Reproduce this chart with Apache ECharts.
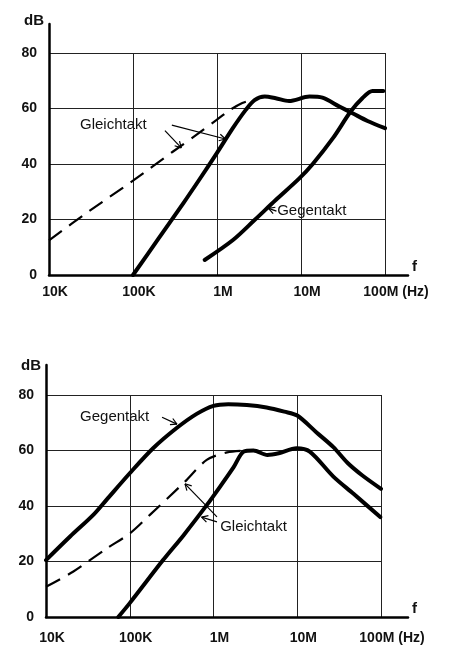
<!DOCTYPE html>
<html>
<head>
<meta charset="utf-8">
<script src="https://cdn.jsdelivr.net/npm/echarts@6/dist/echarts.min.js"></script>
<style>html,body{margin:0;padding:0;background:#fff;}#c{width:451px;height:646px;}</style>
</head>
<body>
<div id="c"></div>
<script>
// ---------- tick labels ----------
const xTickLabels = ['10K', '100K', '1M', '10M', '100M (Hz)'];
const yMin = 0, yMax = 80, yStep = 20;

// ---------- top panel (frequency in Hz, level in dB) ----------
const topGleichSolidF  = [1e5, 2e5, 4e5, 6.2e5, 1e6, 1.55e6, 2.2e6, 2.8e6, 3.7e6, 5e6, 7.2e6, 1.26e7, 1.8e7, 2.86e7, 4.1e7, 6.2e7, 1e8];
const topGleichSolidDb = [0, 13, 26, 34.5, 44, 53, 59.5, 63, 64.3, 63.7, 62.7, 64.3, 63.9, 60.7, 58.3, 55.5, 52.9];

const topGleichDashF  = [1e4, 3e4, 1e5, 3e5, 6e5, 1e6, 1.4e6, 2e6, 2.6e6];
const topGleichDashDb = [12.5, 23, 34, 44.5, 51, 56, 59.3, 62, 63];

const topGegenF  = [7.13e5, 1.55e6, 2.8e6, 5e6, 9.55e6, 1.38e7, 2.4e7, 3.9e7, 5.37e7, 7.1e7, 9.55e7];
const topGegenDb = [5.4, 12.6, 19.8, 27, 34.8, 40, 49.3, 58.9, 63.7, 66.3, 66.3];

// ---------- bottom panel ----------
const botGegenF  = [1e4, 1.94e4, 3.67e4, 5.3e4, 1e5, 1.9e5, 3.6e5, 6.3e5, 1e6, 1.5e6, 2.5e6, 4.3e6, 7e6, 1e7, 1.7e7, 2.7e7, 4e7, 6e7, 1e8];
const botGegenDb = [20.5, 29, 36.8, 42.3, 51.8, 60.8, 68, 73.2, 76.1, 76.7, 76.4, 75.5, 74, 72.6, 66.5, 61.2, 55.5, 51, 46.2];

const botGleichDashF  = [1e4, 2.1e4, 5.3e4, 1e5, 1.74e5, 4.4e5, 8.3e5, 1.45e6, 2.5e6];
const botGleichDashDb = [10.9, 16.3, 24.7, 30.1, 36.8, 48.3, 56.6, 59.3, 60];

const botGleichSolidF  = [7.3e4, 1e5, 2.5e5, 4.4e5, 8.3e5, 1.2e6, 1.74e6, 2.3e6, 3e6, 4.4e6, 6e6, 9.8e6, 1.41e7, 2.7e7, 4.7e7, 9.8e7];
const botGleichSolidDb = [0, 5, 20.5, 29.5, 40.3, 47, 54, 59.6, 60, 58.4, 59, 60.8, 59.6, 50.6, 44.4, 36];

// ---------- annotation texts and leader arrows (in data units) ----------
const annoTexts = [
  { grid: 0, text: 'Gleichtakt', f: 2.34e4, db: 54 },
  { grid: 0, text: 'Gegentakt',  f: 5.2e6,  db: 23 },
  { grid: 1, text: 'Gegentakt',  f: 2.55e4, db: 72 },
  { grid: 1, text: 'Gleichtakt', f: 1.2e6,  db: 32.4 }
];
const annoArrows = [
  { grid: 0, from: [2.9e5, 54],  to: [1.26e6, 49] },
  { grid: 0, from: [2.4e5, 52],  to: [3.76e5, 45.8] },
  { grid: 0, from: [5.1e6, 23],  to: [4.1e6, 24] },
  { grid: 1, from: [2.43e5, 72], to: [3.66e5, 69.5] },
  { grid: 1, from: [1.1e6, 36.1], to: [4.57e5, 48] },
  { grid: 1, from: [1.1e6, 34.3], to: [7.2e5, 36] }
];

function pairs(fs, dbs) { return fs.map((f, i) => [f, dbs[i]]); }

const FONT = '"Liberation Sans", Arial, sans-serif';
const INK = '#111';

function mainX(gridIndex, margin) {
  return {
    type: 'log', logBase: 10, gridIndex, min: 1e4, max: 1e8,
    axisLine: { show: false }, axisTick: { show: false },
    splitLine: { show: true, lineStyle: { color: '#222', width: 1 } },
    axisLabel: {
      color: INK, fontFamily: FONT, fontSize: 14, fontWeight: 'bold', margin,
      padding: [0, 0, 0, 12],
      formatter: v => {
        const i = Math.round(Math.log10(v)) - 4;
        const s = xTickLabels[i] || '';
        return i === 4 ? '{hz|' + s + '}' : s;
      },
      rich: { hz: { fontFamily: FONT, fontSize: 14, fontWeight: 'bold', color: INK, padding: [0, 0, 0, 10] } }
    }
  };
}
function mainY(gridIndex) {
  return {
    type: 'value', gridIndex, min: yMin, max: yMax, interval: yStep,
    axisLine: { show: false }, axisTick: { show: false },
    splitLine: { show: true, lineStyle: { color: '#222', width: 1 } },
    axisLabel: { color: INK, fontFamily: FONT, fontSize: 14, fontWeight: 'bold', margin: 12 }
  };
}
function frameX(gridIndex) {
  return {
    type: 'value', gridIndex, min: 0, max: 1,
    axisLine: { show: true, lineStyle: { color: '#000', width: 2.5 } },
    axisTick: { show: false }, axisLabel: { show: false }, splitLine: { show: false },
    name: 'f', nameLocation: 'end', nameGap: 4,
    nameTextStyle: { color: INK, fontFamily: FONT, fontSize: 15, fontWeight: 'bold', verticalAlign: 'bottom', padding: [0, 0, 1, 0] }
  };
}
function frameY(gridIndex, gap, shift) {
  return {
    type: 'value', gridIndex, min: 0, max: 1,
    axisLine: { show: true, lineStyle: { color: '#000', width: 2.5 } },
    axisTick: { show: false }, axisLabel: { show: false }, splitLine: { show: false },
    name: 'dB', nameLocation: 'end', nameGap: gap,
    nameTextStyle: { color: INK, fontFamily: FONT, fontSize: 15, fontWeight: 'bold', padding: [0, shift, 0, 0] }
  };
}

const solid = { color: '#000', width: 4, cap: 'round', join: 'round' };
const dashed = { color: '#000', width: 2.2, type: [16, 9] };

function curve(name, x, y, data, style) {
  return {
    name, type: 'line', xAxisIndex: x, yAxisIndex: y, data,
    showSymbol: false, symbol: 'none', smooth: 0.3,
    lineStyle: style, z: 5, silent: true
  };
}

const chart = echarts.init(document.getElementById('c'), null, { renderer: 'canvas' });
chart.setOption({
  animation: false,
  backgroundColor: '#fff',
  grid: [
    { left: 49, right: 66, top: 53, bottom: 371 },   // top main
    { left: 46, right: 70, top: 395, bottom: 29 },   // bottom main
    { left: 49, right: 43, top: 24, bottom: 371 },   // top frame
    { left: 46, right: 43, top: 365, bottom: 29 }    // bottom frame
  ],
  xAxis: [mainX(0, 10), mainX(1, 14), frameX(2), frameX(3)],
  yAxis: [mainY(0), mainY(1), frameY(2, -4, 30), frameY(3, -8, 30)],
  series: [
    curve('Gleichtakt', 0, 0, pairs(topGleichSolidF, topGleichSolidDb), solid),
    curve('Gleichtakt (gestrichelt)', 0, 0, pairs(topGleichDashF, topGleichDashDb), dashed),
    curve('Gegentakt', 0, 0, pairs(topGegenF, topGegenDb), solid),
    curve('Gegentakt', 1, 1, pairs(botGegenF, botGegenDb), solid),
    curve('Gleichtakt (gestrichelt)', 1, 1, pairs(botGleichDashF, botGleichDashDb), dashed),
    curve('Gleichtakt', 1, 1, pairs(botGleichSolidF, botGleichSolidDb), solid)
  ]
});

// annotations positioned through the chart's own coordinate conversion
const gfx = [];
annoTexts.forEach(a => {
  const p = chart.convertToPixel({ gridIndex: a.grid }, [a.f, a.db]);
  gfx.push({
    type: 'text', z: 10, silent: true,
    style: { text: a.text, x: p[0], y: p[1], font: 'normal 15px ' + FONT, fill: INK,
             textAlign: 'left', align: 'left', textVerticalAlign: 'middle', verticalAlign: 'middle' }
  });
});
annoArrows.forEach(a => {
  const p1 = chart.convertToPixel({ gridIndex: a.grid }, a.from);
  const p2 = chart.convertToPixel({ gridIndex: a.grid }, a.to);
  const ang = Math.atan2(p2[1] - p1[1], p2[0] - p1[0]);
  const L = 7, w = 0.5;
  const ls = { stroke: '#000', lineWidth: 1.2 };
  gfx.push({ type: 'line', z: 10, silent: true, shape: { x1: p1[0], y1: p1[1], x2: p2[0], y2: p2[1] }, style: ls });
  [ang + Math.PI - w, ang + Math.PI + w].forEach(t => {
    gfx.push({ type: 'line', z: 10, silent: true,
      shape: { x1: p2[0], y1: p2[1], x2: p2[0] + L * Math.cos(t), y2: p2[1] + L * Math.sin(t) }, style: ls });
  });
});
chart.setOption({ graphic: gfx });
</script>
</body>
</html>
